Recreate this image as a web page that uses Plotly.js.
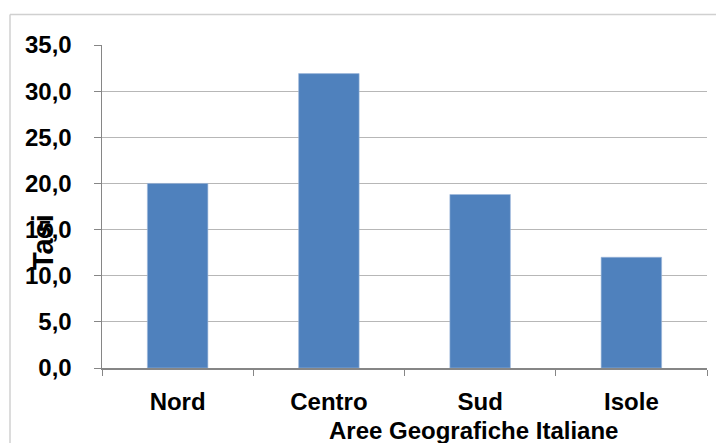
<!DOCTYPE html>
<html>
<head>
<meta charset="utf-8">
<script src="https://cdn.plot.ly/plotly-3.0.1.min.js"></script>
<style>
html,body{margin:0;padding:0;background:#fff;}
#chart{width:716px;height:443px;}
</style>
</head>
<body>
<div id="chart"></div>
<script>
var categories = ["Nord", "Centro", "Sud", "Isole"];
var tassi = [20.0, 31.9, 18.8, 12.0];
var yTitle = "Tasi";
var xTitle = "Aree Geografiche Italiane";

var W = 716, H = 443;
var M = {l: 102, r: 9, t: 45, b: 75};
var pw = W - M.l - M.r, ph = H - M.t - M.b;
function px(x){ return (x - M.l) / pw; }
function py(y){ return (H - M.b - y) / ph; }

var FONT = '"Liberation Sans Narrow", "Arial Narrow", "Liberation Sans", Arial, sans-serif';

var trace = {
  type: 'bar',
  x: categories,
  y: tassi,
  marker: {color: '#4f81bd', line: {color: '#9fb8dc', width: 0.6}},
  hoverinfo: 'x+y'
};

var layout = {
  width: W, height: H,
  margin: M,
  paper_bgcolor: '#ffffff',
  plot_bgcolor: '#ffffff',
  separators: ',.',
  showlegend: false,
  bargap: 0.6,
  font: {family: FONT, size: 24, color: '#000000'},
  xaxis: {
    type: 'category',
    tickson: 'boundaries',
    ticks: 'outside', ticklen: 6, tickwidth: 1, tickcolor: '#868686',
    showline: true, linecolor: '#868686', linewidth: 1.5,
    showgrid: false, zeroline: false,
    tickfont: {family: FONT, size: 24, color: '#000', weight: 'bold'},
    ticklabelstandoff: 12
  },
  yaxis: {
    range: [0, 35], dtick: 5, tick0: 0,
    tickformat: '.1f',
    ticks: 'outside', ticklen: 7, tickwidth: 1, tickcolor: '#868686',
    showline: true, linecolor: '#868686', linewidth: 1.5,
    showgrid: true, gridcolor: '#b7b7b7', gridwidth: 1,
    zeroline: false,
    tickfont: {family: FONT, size: 24, color: '#000', weight: 'bold'},
    ticklabelstandoff: 17
  },
  annotations: [
    {text: '<b>' + yTitle + '</b>', xref: 'paper', yref: 'paper',
     x: px(43), y: py(242), xanchor: 'center', yanchor: 'middle',
     textangle: -90, showarrow: false,
     font: {family: FONT, size: 29, color: '#000'}},
    {text: '<b>' + xTitle + '</b>', xref: 'paper', yref: 'paper',
     x: px(473), y: py(430), xanchor: 'center', yanchor: 'middle',
     showarrow: false,
     font: {family: FONT, size: 24, color: '#000'}}
  ],
  shapes: [
    {type: 'line', xref: 'paper', yref: 'paper', x0: px(10), x1: px(716), y0: py(14.5), y1: py(14.5),
     line: {color: '#d0d0d0', width: 1.5}},
    {type: 'line', xref: 'paper', yref: 'paper', x0: px(10), x1: px(10), y0: py(14.5), y1: py(443),
     line: {color: '#d0d0d0', width: 1.5}}
  ]
};

Plotly.newPlot('chart', [trace], layout, {staticPlot: true, displayModeBar: false});
</script>
</body>
</html>
